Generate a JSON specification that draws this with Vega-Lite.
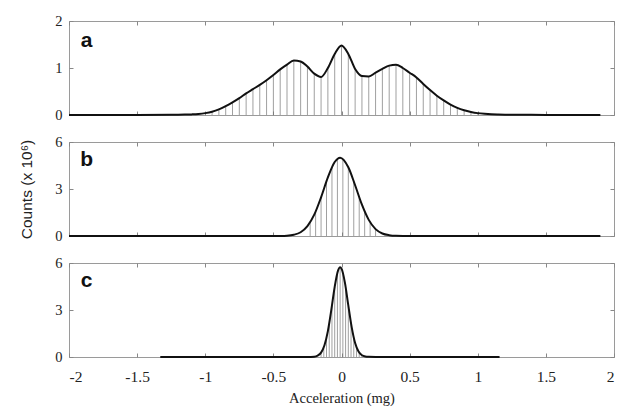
{
  "$schema": "https://vega.github.io/schema/vega-lite/v6.json",
  "padding": {"left": 19, "top": 12, "right": 8, "bottom": 2},
  "spacing": 11,
  "background": "white",
  "config": {
    "view": {"stroke": "#9a9a9a", "strokeWidth": 1},
    "axis": {
      "labelFont": "Liberation Serif", "labelFontSize": 14.5, "labelColor": "#222",
      "titleFont": "Liberation Serif", "titleFontSize": 14.5, "titleFontWeight": "normal", "titleColor": "#222",
      "grid": false, "domain": false, "tickColor": "#888", "tickSize": -4, "labelPadding": 11
    }
  },
  "datasets": {
    "curve_a": [
      {"acc": -2, "count": 0}, {"acc": -1.5, "count": 0}, {"acc": -1.25, "count": 0.003}, {"acc": -1.2, "count": 0.005},
      {"acc": -1.15, "count": 0.008}, {"acc": -1.1, "count": 0.013}, {"acc": -1.05, "count": 0.022}, {"acc": -1.0, "count": 0.04},
      {"acc": -0.95, "count": 0.07}, {"acc": -0.9, "count": 0.12}, {"acc": -0.85, "count": 0.19}, {"acc": -0.8, "count": 0.27},
      {"acc": -0.75, "count": 0.36}, {"acc": -0.7, "count": 0.46}, {"acc": -0.65, "count": 0.55}, {"acc": -0.6, "count": 0.64},
      {"acc": -0.55, "count": 0.74}, {"acc": -0.5, "count": 0.85}, {"acc": -0.45, "count": 0.97}, {"acc": -0.4, "count": 1.07},
      {"acc": -0.35, "count": 1.16}, {"acc": -0.3, "count": 1.14}, {"acc": -0.25, "count": 1.03}, {"acc": -0.2, "count": 0.88},
      {"acc": -0.15, "count": 0.81}, {"acc": -0.1, "count": 1.0}, {"acc": -0.05, "count": 1.3}, {"acc": 0.0, "count": 1.48},
      {"acc": 0.05, "count": 1.3}, {"acc": 0.1, "count": 0.98}, {"acc": 0.15, "count": 0.83}, {"acc": 0.2, "count": 0.82},
      {"acc": 0.25, "count": 0.9}, {"acc": 0.3, "count": 0.98}, {"acc": 0.35, "count": 1.05}, {"acc": 0.4, "count": 1.07},
      {"acc": 0.45, "count": 1.0}, {"acc": 0.5, "count": 0.9}, {"acc": 0.55, "count": 0.8}, {"acc": 0.6, "count": 0.66},
      {"acc": 0.65, "count": 0.53}, {"acc": 0.7, "count": 0.41}, {"acc": 0.75, "count": 0.31}, {"acc": 0.8, "count": 0.22},
      {"acc": 0.85, "count": 0.15}, {"acc": 0.9, "count": 0.1}, {"acc": 0.95, "count": 0.065}, {"acc": 1.0, "count": 0.04},
      {"acc": 1.05, "count": 0.025}, {"acc": 1.1, "count": 0.015}, {"acc": 1.15, "count": 0.01}, {"acc": 1.2, "count": 0.007},
      {"acc": 1.3, "count": 0.004}, {"acc": 1.5, "count": 0.002}, {"acc": 1.9, "count": 0.001}
    ],
    "hist_a": [
      {"acc": -0.95, "count": 0.07}, {"acc": -0.9, "count": 0.12}, {"acc": -0.85, "count": 0.19}, {"acc": -0.8, "count": 0.27},
      {"acc": -0.75, "count": 0.36}, {"acc": -0.7, "count": 0.46}, {"acc": -0.65, "count": 0.55}, {"acc": -0.6, "count": 0.64},
      {"acc": -0.55, "count": 0.74}, {"acc": -0.5, "count": 0.85}, {"acc": -0.45, "count": 0.97}, {"acc": -0.4, "count": 1.07},
      {"acc": -0.35, "count": 1.16}, {"acc": -0.3, "count": 1.14}, {"acc": -0.25, "count": 1.03}, {"acc": -0.2, "count": 0.88},
      {"acc": -0.15, "count": 0.81}, {"acc": -0.1, "count": 1.0}, {"acc": -0.05, "count": 1.3}, {"acc": 0.0, "count": 1.48},
      {"acc": 0.05, "count": 1.3}, {"acc": 0.1, "count": 0.98}, {"acc": 0.15, "count": 0.83}, {"acc": 0.2, "count": 0.82},
      {"acc": 0.25, "count": 0.9}, {"acc": 0.3, "count": 0.98}, {"acc": 0.35, "count": 1.05}, {"acc": 0.4, "count": 1.07},
      {"acc": 0.45, "count": 1.0}, {"acc": 0.5, "count": 0.9}, {"acc": 0.55, "count": 0.8}, {"acc": 0.6, "count": 0.66},
      {"acc": 0.65, "count": 0.53}, {"acc": 0.7, "count": 0.41}, {"acc": 0.75, "count": 0.31}, {"acc": 0.8, "count": 0.22},
      {"acc": 0.85, "count": 0.15}, {"acc": 0.9, "count": 0.1}, {"acc": 0.95, "count": 0.065}, {"acc": 1.0, "count": 0.04}
    ],
    "curve_b": [
      {"acc": -2, "count": 0}, {"acc": -1.5, "count": 0}, {"acc": -1, "count": 0}, {"acc": -0.5, "count": 0},
      {"acc": -0.45, "count": 0.004}, {"acc": -0.4, "count": 0.02}, {"acc": -0.35, "count": 0.08}, {"acc": -0.3, "count": 0.24},
      {"acc": -0.25, "count": 0.63}, {"acc": -0.2, "count": 1.36}, {"acc": -0.15, "count": 2.47}, {"acc": -0.1, "count": 3.74},
      {"acc": -0.05, "count": 4.72}, {"acc": -0.01, "count": 5.0}, {"acc": 0.05, "count": 4.39}, {"acc": 0.1, "count": 3.24},
      {"acc": 0.15, "count": 2.0}, {"acc": 0.2, "count": 1.03}, {"acc": 0.25, "count": 0.44}, {"acc": 0.3, "count": 0.16},
      {"acc": 0.35, "count": 0.05}, {"acc": 0.4, "count": 0.01}, {"acc": 0.45, "count": 0.002}, {"acc": 0.5, "count": 0},
      {"acc": 1, "count": 0}, {"acc": 1.5, "count": 0}, {"acc": 1.9, "count": 0}
    ],
    "hist_b": [
      {"acc": -0.23, "count": 0.88}, {"acc": -0.19, "count": 1.56}, {"acc": -0.15, "count": 2.47}, {"acc": -0.11, "count": 3.49},
      {"acc": -0.07, "count": 4.39}, {"acc": -0.03, "count": 4.93}, {"acc": 0.01, "count": 4.93}, {"acc": 0.05, "count": 4.39},
      {"acc": 0.09, "count": 3.49}, {"acc": 0.13, "count": 2.47}, {"acc": 0.17, "count": 1.56}, {"acc": 0.21, "count": 0.88},
      {"acc": 0.25, "count": 0.44}
    ],
    "curve_c": [
      {"acc": -1.33, "count": 0}, {"acc": -1, "count": 0}, {"acc": -0.5, "count": 0}, {"acc": -0.25, "count": 0},
      {"acc": -0.2, "count": 0.02}, {"acc": -0.175, "count": 0.09}, {"acc": -0.15, "count": 0.28}, {"acc": -0.125, "count": 0.75},
      {"acc": -0.1, "count": 1.65}, {"acc": -0.075, "count": 2.99}, {"acc": -0.05, "count": 4.48}, {"acc": -0.025, "count": 5.53},
      {"acc": -0.01, "count": 5.73}, {"acc": 0.0, "count": 5.64}, {"acc": 0.025, "count": 4.75}, {"acc": 0.05, "count": 3.29},
      {"acc": 0.075, "count": 1.89}, {"acc": 0.1, "count": 0.89}, {"acc": 0.125, "count": 0.35}, {"acc": 0.15, "count": 0.11},
      {"acc": 0.175, "count": 0.03}, {"acc": 0.2, "count": 0.01}, {"acc": 0.25, "count": 0}, {"acc": 0.5, "count": 0},
      {"acc": 1, "count": 0}, {"acc": 1.16, "count": 0}
    ],
    "hist_c": [
      {"acc": -0.15, "count": 0.28}, {"acc": -0.13, "count": 0.63}, {"acc": -0.11, "count": 1.23}, {"acc": -0.09, "count": 2.14},
      {"acc": -0.07, "count": 3.29}, {"acc": -0.05, "count": 4.48}, {"acc": -0.03, "count": 5.39}, {"acc": -0.01, "count": 5.73},
      {"acc": 0.01, "count": 5.39}, {"acc": 0.03, "count": 4.48}, {"acc": 0.05, "count": 3.29}, {"acc": 0.07, "count": 2.14},
      {"acc": 0.09, "count": 1.23}, {"acc": 0.11, "count": 0.63}, {"acc": 0.13, "count": 0.28}, {"acc": 0.15, "count": 0.11}
    ]
  },
  "vconcat": [
    {
      "width": 545, "height": 94,
      "resolve": {"axis": {"x": "independent", "y": "independent"}},
      "layer": [
        {
          "data": {"name": "hist_a"},
          "mark": {"type": "rule", "color": "#777", "strokeWidth": 0.7},
          "encoding": {
            "x": {"field": "acc", "type": "quantitative", "scale": {"domain": [-2, 2]},
                  "axis": {"orient": "bottom", "values": [-2, -1.5, -1, -0.5, 0, 0.5, 1, 1.5, 2], "labels": false, "title": null}},
            "y": {"field": "count", "type": "quantitative", "scale": {"domain": [0, 2]},
                  "axis": {"orient": "left", "values": [0, 1, 2], "title": null, "labelExpr": "'' + datum.value"}},
            "y2": {"datum": 0}
          }
        },
        {
          "data": {"name": "curve_a"},
          "mark": {"type": "line", "color": "#111", "strokeWidth": 2, "interpolate": "monotone"},
          "encoding": {
            "x": {"field": "acc", "type": "quantitative", "scale": {"domain": [-2, 2]},
                  "axis": {"orient": "top", "values": [-2, -1.5, -1, -0.5, 0, 0.5, 1, 1.5, 2], "labels": false, "title": null}},
            "y": {"field": "count", "type": "quantitative", "scale": {"domain": [0, 2]},
                  "axis": {"orient": "right", "values": [0, 1, 2], "labels": false, "title": null}}
          }
        },
        {
          "data": {"values": [{"acc": -1.87, "count": 1.57, "label": "a"}]},
          "mark": {"type": "text", "font": "Liberation Sans", "fontWeight": "bold", "fontSize": 21, "color": "#111"},
          "encoding": {
            "x": {"field": "acc", "type": "quantitative", "axis": null},
            "y": {"field": "count", "type": "quantitative", "axis": null},
            "text": {"field": "label"}
          }
        }
      ]
    },
    {
      "width": 545, "height": 94,
      "resolve": {"axis": {"x": "independent", "y": "independent"}},
      "layer": [
        {
          "data": {"name": "hist_b"},
          "mark": {"type": "rule", "color": "#777", "strokeWidth": 0.7},
          "encoding": {
            "x": {"field": "acc", "type": "quantitative", "scale": {"domain": [-2, 2]},
                  "axis": {"orient": "bottom", "values": [-2, -1.5, -1, -0.5, 0, 0.5, 1, 1.5, 2], "labels": false, "title": null}},
            "y": {"field": "count", "type": "quantitative", "scale": {"domain": [0, 6]},
                  "axis": {"orient": "left", "values": [0, 3, 6], "labelExpr": "'' + datum.value",
                           "title": "Counts (x 10⁶)", "titleFont": "Liberation Sans", "titleFontSize": 15.5, "titlePadding": 20}},
            "y2": {"datum": 0}
          }
        },
        {
          "data": {"name": "curve_b"},
          "mark": {"type": "line", "color": "#111", "strokeWidth": 2, "interpolate": "monotone"},
          "encoding": {
            "x": {"field": "acc", "type": "quantitative", "scale": {"domain": [-2, 2]},
                  "axis": {"orient": "top", "values": [-2, -1.5, -1, -0.5, 0, 0.5, 1, 1.5, 2], "labels": false, "title": null}},
            "y": {"field": "count", "type": "quantitative", "scale": {"domain": [0, 6]},
                  "axis": {"orient": "right", "values": [0, 3, 6], "labels": false, "title": null}}
          }
        },
        {
          "data": {"values": [{"acc": -1.87, "count": 4.88, "label": "b"}]},
          "mark": {"type": "text", "font": "Liberation Sans", "fontWeight": "bold", "fontSize": 21, "color": "#111"},
          "encoding": {
            "x": {"field": "acc", "type": "quantitative", "axis": null},
            "y": {"field": "count", "type": "quantitative", "axis": null},
            "text": {"field": "label"}
          }
        }
      ]
    },
    {
      "width": 545, "height": 94,
      "resolve": {"axis": {"x": "independent", "y": "independent"}},
      "layer": [
        {
          "data": {"name": "hist_c"},
          "mark": {"type": "rule", "color": "#777", "strokeWidth": 0.7},
          "encoding": {
            "x": {"field": "acc", "type": "quantitative", "scale": {"domain": [-2, 2]},
                  "axis": {"orient": "bottom", "values": [-2, -1.5, -1, -0.5, 0, 0.5, 1, 1.5, 2], "labelExpr": "'' + datum.value",
                           "title": "Acceleration (mg)", "titlePadding": 7, "labelFontSize": 15.5, "labelPadding": 16}},
            "y": {"field": "count", "type": "quantitative", "scale": {"domain": [0, 6]},
                  "axis": {"orient": "left", "values": [0, 3, 6], "title": null, "labelExpr": "'' + datum.value"}},
            "y2": {"datum": 0}
          }
        },
        {
          "data": {"name": "curve_c"},
          "mark": {"type": "line", "color": "#111", "strokeWidth": 2, "interpolate": "monotone"},
          "encoding": {
            "x": {"field": "acc", "type": "quantitative", "scale": {"domain": [-2, 2]},
                  "axis": {"orient": "top", "values": [-2, -1.5, -1, -0.5, 0, 0.5, 1, 1.5, 2], "labels": false, "title": null}},
            "y": {"field": "count", "type": "quantitative", "scale": {"domain": [0, 6]},
                  "axis": {"orient": "right", "values": [0, 3, 6], "labels": false, "title": null}}
          }
        },
        {
          "data": {"values": [{"acc": -1.87, "count": 4.82, "label": "c"}]},
          "mark": {"type": "text", "font": "Liberation Sans", "fontWeight": "bold", "fontSize": 21, "color": "#111"},
          "encoding": {
            "x": {"field": "acc", "type": "quantitative", "axis": null},
            "y": {"field": "count", "type": "quantitative", "axis": null},
            "text": {"field": "label"}
          }
        }
      ]
    }
  ]
}
